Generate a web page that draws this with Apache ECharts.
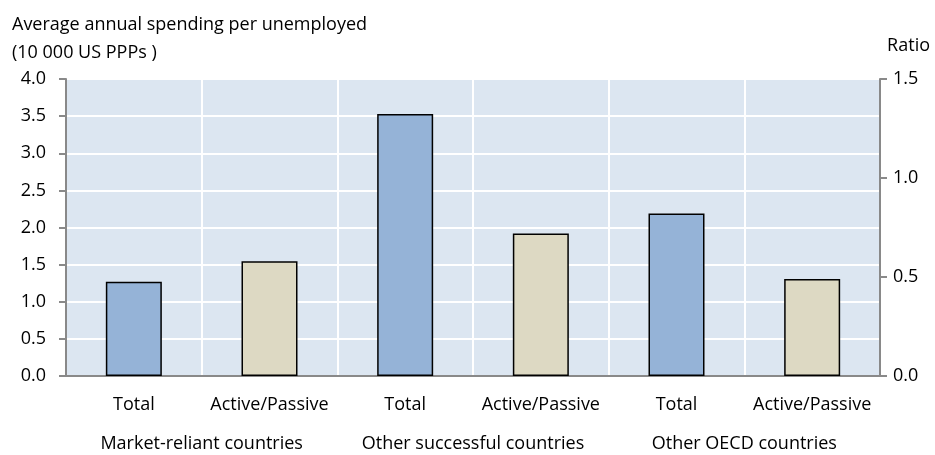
<!DOCTYPE html>
<html>
<head>
<meta charset="utf-8">
<script src="https://cdn.jsdelivr.net/npm/echarts@6/dist/echarts.min.js"></script>
<style>
  html, body { margin: 0; padding: 0; background: #fff; }
  #chart { width: 935px; height: 455px; }
</style>
</head>
<body>
<div id="chart"></div>
<script>
// categories and values
const categories = ['Total', 'Active/Passive', 'Total', 'Active/Passive', 'Total', 'Active/Passive']
const groups = ['Market-reliant countries', 'Other successful countries', 'Other OECD countries']
const totalSpending = [1.27, '-', 3.53, '-', 2.19, '-']   // left axis, 10 000 US PPPs
const activePassive = ['-', 0.58, '-', 0.72, '-', 0.49]  // right axis, ratio
const leftTicks = [0, 4, 0.5]
const rightTicks = [0, 1.5, 0.5]

const font = '"Open Sans", Lato, sans-serif'
const fs = 18
const axisGray = '#898989'

const chart = echarts.init(document.getElementById('chart'))

const option = {
  backgroundColor: '#ffffff',
  textStyle: { fontFamily: font },
  graphic: [
    {
      type: 'text', left: 12, top: 11,
      style: { text: 'Average annual spending per unemployed\n(10 000 US PPPs )', font: fs + 'px ' + font, fill: '#000', lineHeight: 28 }
    },
    {
      type: 'text', right: 5, top: 37,
      style: { text: 'Ratio', font: fs + 'px ' + font, fill: '#000' }
    }
  ],
  grid: {
    left: 66, right: 55, top: 79, bottom: 79,
    show: true,
    backgroundColor: '#dce6f1',
    borderColor: axisGray,
    borderWidth: 2
  },
  xAxis: [
    {
      type: 'category',
      data: categories,
      axisLine: { lineStyle: { color: axisGray, width: 2 } },
      axisTick: { show: false },
      splitLine: { show: true, interval: 0, lineStyle: { color: '#ffffff', width: 2 } },
      axisLabel: { interval: 0, color: '#000', fontSize: fs, margin: 20, fontFamily: font }
    },
    {
      type: 'category',
      data: groups,
      position: 'bottom',
      offset: 39,
      axisLine: { show: false },
      axisTick: { show: false },
      axisLabel: { interval: 0, color: '#000', fontSize: fs, margin: 20, fontFamily: font }
    }
  ],
  yAxis: [
    {
      type: 'value',
      min: leftTicks[0], max: leftTicks[1], interval: leftTicks[2],
      axisLine: { show: true, lineStyle: { color: axisGray, width: 2 } },
      axisTick: { show: true, length: 7, lineStyle: { color: axisGray, width: 2 } },
      splitLine: { lineStyle: { color: '#ffffff', width: 2 } },
      axisLabel: { color: '#000', fontSize: fs, margin: 20, fontFamily: font, formatter: v => v.toFixed(1) }
    },
    {
      type: 'value',
      position: 'right',
      min: rightTicks[0], max: rightTicks[1], interval: rightTicks[2],
      axisLine: { show: true, lineStyle: { color: axisGray, width: 2 } },
      axisTick: { show: true, length: 7, lineStyle: { color: axisGray, width: 2 } },
      splitLine: { show: false },
      axisLabel: { color: '#000', fontSize: fs, margin: 13, fontFamily: font, formatter: v => v.toFixed(1) }
    }
  ],
  series: [
    {
      name: 'Total',
      type: 'bar',
      yAxisIndex: 0,
      data: totalSpending,
      barWidth: 56,
      barGap: '-100%',
      itemStyle: { color: '#95b3d7', borderColor: '#000', borderWidth: 1.5 }
    },
    {
      name: 'Active/Passive',
      type: 'bar',
      yAxisIndex: 1,
      data: activePassive,
      barWidth: 56,
      barGap: '-100%',
      itemStyle: { color: '#ddd9c3', borderColor: '#000', borderWidth: 1.5 }
    }
  ]
}

chart.setOption(option)
</script>
</body>
</html>
